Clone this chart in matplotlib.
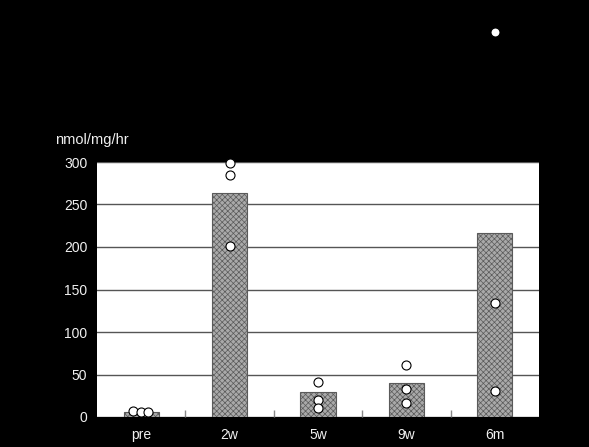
import numpy as np
import matplotlib.pyplot as plt

plt.rcParams['font.family'] = ['Liberation Sans', 'DejaVu Sans']
plt.rcParams['hatch.color'] = '#989898'
plt.rcParams['hatch.linewidth'] = 0.5

# group labels, group means and individual measurements (nmol/mg/hr)
groups = ['pre', '2w', '5w', '9w', '6m']
means = [6, 263, 29, 40, 216]
pts_pre = [7, 6, 6]
pts_2w = [299, 285, 201]
pts_5w = [41, 20, 11]
pts_9w = [61.5, 32.5, 17]
pts_6m = [453, 134, 31]
points = [pts_pre, pts_2w, pts_5w, pts_9w, pts_6m]
pre_offsets = [-0.09, 0, 0.08]

fig = plt.figure(figsize=(5.89, 4.47), dpi=100, facecolor='black')
ax = fig.add_axes([97/589, 30/447, 442/589, 255/447])
ax.set_facecolor('white')

x = np.arange(len(groups))
ax.bar(x, means, width=0.4, color='#a9a9a9', edgecolor='#5a5a5a',
       linewidth=0.8, hatch='xxxxxx', zorder=2)

for i, vals in enumerate(points):
    for j, v in enumerate(vals):
        xi = i + (pre_offsets[j] if i == 0 else 0)
        ax.plot(xi, v, 'o', ms=6.5, mfc='white', mec='black', mew=0.8,
                zorder=3, clip_on=False)

ax.set_xlim(-0.5, 4.5)
ax.set_ylim(0, 300)
ax.set_yticks([0, 50, 100, 150, 200, 250, 300])
ax.yaxis.grid(True, color='#555555', linewidth=1)
ax.set_axisbelow(True)
for s in ax.spines.values():
    s.set_visible(False)

ax.set_xticks(x)
ax.set_xticklabels(groups)
ax.set_xticks([0.5, 1.5, 2.5, 3.5], minor=True)
ax.tick_params(axis='x', which='major', length=0, pad=8, colors='#f0f0f0',
               labelsize=10)
ax.tick_params(axis='x', which='minor', direction='in', length=5,
               color='#888888', width=1)
ax.tick_params(axis='y', length=0, pad=7, colors='#f0f0f0', labelsize=10)

fig.text(55/589, 1 - 140/447, 'nmol/mg/hr', color='#f0f0f0', fontsize=10.5,
         va='center', ha='left')

fig.savefig('out.png', dpi=100, facecolor='black')
